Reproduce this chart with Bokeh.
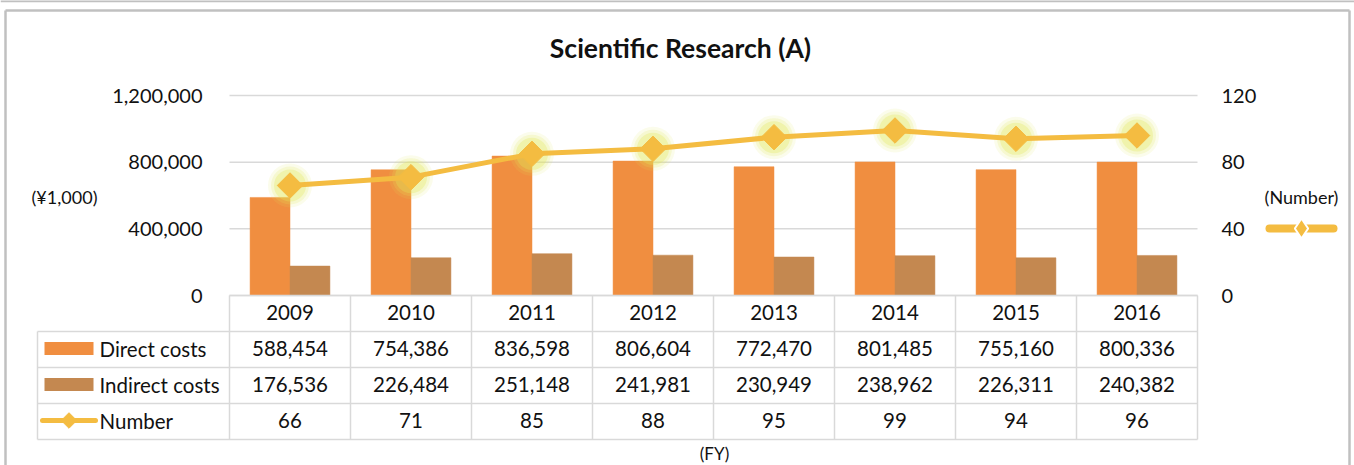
import numpy as np
from bokeh.plotting import figure
from bokeh.models import (ColumnDataSource, Range1d, LinearAxis, FixedTicker,
                          NumeralTickFormatter)
from bokeh.transform import dodge
from bokeh.embed import file_html
from bokeh.resources import INLINE
from bokeh.core.properties import value

# ---------------- data ----------------
years = ["2009", "2010", "2011", "2012", "2013", "2014", "2015", "2016"]
direct_costs = [588454, 754386, 836598, 806604, 772470, 801485, 755160, 800336]
indirect_costs = [176536, 226484, 251148, 241981, 230949, 238962, 226311, 240382]
numbers = [66, 71, 85, 88, 95, 99, 94, 96]
cost_ticks = [0, 400000, 800000, 1200000]
number_ticks = [0, 40, 80, 120]
series_names = ["Direct costs", "Indirect costs", "Number"]
title_text = "Scientific Research (A)"
cost_unit = "(¥1,000)"
number_unit = "(Number)"
fy_label = "(FY)"

# ---------------- style / layout ----------------
FONT = "Lato"
TXT = "#111111"
ORANGE = "#F08E40"
BROWN = "#C48850"
GOLD = "#F4BC41"
GLOW = "#E2E85A"
GRID = "#D9D9D9"
BORDER = "#C0C0C0"

W, H = 1354, 465
FRAME_L, FRAME_R, FRAME_T, FRAME_B = 229, 1197, 95, 295
n = len(years)
CAT_PX = (FRAME_R - FRAME_L) / n
COST_MAX = cost_ticks[-1]
NUM_MAX = number_ticks[-1]
PX_COST = COST_MAX / (FRAME_B - FRAME_T)
RATIO = NUM_MAX / COST_MAX


def xd(px):
    return (px - FRAME_L) / CAT_PX


def yd(py):
    return (FRAME_B - py) * PX_COST


xc = [i + 0.5 for i in range(n)]
src = ColumnDataSource(dict(x=xc, year=years, direct=direct_costs,
                            indirect=indirect_costs, number=numbers))

p = figure(x_range=Range1d(xd(0), xd(W)),
           y_range=Range1d(yd(H), yd(0)),
           width=W, height=H, output_backend="svg", toolbar_location=None,
           min_border=0, x_axis_location=None, y_axis_location=None)
p.outline_line_color = None
p.grid.visible = False
p.background_fill_color = "white"
p.border_fill_color = "white"

# axes
lax = LinearAxis(fixed_location=0, bounds=(0, COST_MAX),
                 ticker=FixedTicker(ticks=cost_ticks),
                 formatter=NumeralTickFormatter(format="0,0"),
                 axis_line_color=None, major_tick_line_color=None,
                 major_tick_out=0, major_tick_in=0,
                 minor_tick_line_color=None, major_label_standoff=27,
                 major_label_text_font=FONT, major_label_text_font_size="20px",
                 major_label_text_color=TXT)
p.add_layout(lax, "left")

p.extra_y_ranges = {"num": Range1d(p.y_range.start * RATIO, p.y_range.end * RATIO)}
rax = LinearAxis(y_range_name="num", fixed_location=n, bounds=(0, NUM_MAX),
                 ticker=FixedTicker(ticks=number_ticks),
                 axis_line_color=None, major_tick_line_color=None,
                 major_tick_out=0, major_tick_in=0,
                 minor_tick_line_color=None, major_label_standoff=24,
                 major_label_text_font=FONT, major_label_text_font_size="20px",
                 major_label_text_color=TXT)
p.add_layout(rax, "right")

# chart border
p.segment(x0=[xd(0), xd(5)], y0=[yd(0.5), yd(10)], x1=[xd(W), xd(1349)],
          y1=[yd(0.5), yd(10)], line_color=BORDER, line_width=2.5)
p.segment(x0=[xd(5), xd(1349)], y0=[yd(10), yd(10)], x1=[xd(5), xd(1349)],
          y1=[yd(H), yd(H)], line_color=BORDER, line_width=2.5)

# gridlines
p.segment(x0=[0] * len(cost_ticks), y0=cost_ticks, x1=[n] * len(cost_ticks),
          y1=cost_ticks, line_color=GRID, line_width=1.5)

# bars
p.vbar(x=dodge("x", -0.165), top="direct", width=0.33, source=src,
       fill_color=ORANGE, line_color=ORANGE, line_width=0.5)
p.vbar(x=dodge("x", 0.165), top="indirect", width=0.33, source=src,
       fill_color=BROWN, line_color=BROWN, line_width=0.5)

# line with glow
for sz, al in [(44, 0.12), (38, 0.18), (32, 0.3)]:
    p.scatter(x="x", y="number", y_range_name="num", source=src, marker="circle",
              size=sz, fill_color=GLOW, fill_alpha=al, line_color=None)
p.line(x="x", y="number", y_range_name="num", source=src,
       line_color=GOLD, line_width=5, line_join="round")
p.scatter(x="x", y="number", y_range_name="num", source=src, marker="square",
          angle=np.pi / 4, size=18, fill_color=GOLD, line_color=GOLD)

# title and unit labels
p.text(x=[xd(680)], y=[yd(47)], text=[title_text], text_align="center",
       text_baseline="middle", text_font=value(FONT), text_font_size="26.5px",
       text_font_style="bold", text_color=TXT)
p.text(x=[xd(64), xd(1301)], y=[yd(196), yd(196)], text=[cost_unit, number_unit],
       text_align="center", text_baseline="middle", text_font=value(FONT),
       text_font_size="18px", text_color=TXT)

# right-side legend marker for Number
p.segment(x0=[xd(1269)], y0=[yd(228)], x1=[xd(1333)], y1=[yd(228)],
          line_color=GOLD, line_width=8, line_cap="round")
p.scatter(x=[xd(1301)], y=[yd(228)], marker="diamond", size=20,
          fill_color=GOLD, line_color="white", line_width=2)

# ---------------- data table ----------------
ROW_TOP, ROW_PX = 295, 36
LBL_L = 37
x0 = xd(LBL_L)
ry = [yd(ROW_TOP + k * ROW_PX) for k in range(5)]   # row boundaries
rc = [yd(ROW_TOP - 1 + (k + 0.5) * ROW_PX) for k in range(4)]  # row centres

vx = list(range(n + 1))
p.segment(x0=vx, y0=[ry[0]] * (n + 1), x1=vx, y1=[ry[4]] * (n + 1),
          line_color=GRID, line_width=1.5)
p.segment(x0=[x0], y0=[ry[1]], x1=[x0], y1=[ry[4]], line_color=GRID, line_width=1.5)
p.segment(x0=[0, x0, x0, x0, x0], y0=ry, x1=[n] * 5, y1=ry,
          line_color=GRID, line_width=1.5)

rows = [years,
        [f"{v:,}" for v in direct_costs],
        [f"{v:,}" for v in indirect_costs],
        [str(v) for v in numbers]]
for r, vals in enumerate(rows):
    p.text(x=xc, y=[rc[r]] * n, text=vals, text_align="center",
           text_baseline="middle", text_font=value(FONT), text_font_size="20.5px",
           text_color=TXT)

p.text(x=[xd(99)] * 3, y=rc[1:], text=series_names, text_align="left",
       text_baseline="middle", text_font=value(FONT), text_font_size="20.5px",
       text_color=TXT)
p.rect(x=[xd(68.5)] * 2, y=rc[1:3], width=49, height=13,
       width_units="screen", height_units="screen",
       fill_color=[ORANGE, BROWN], line_color=None)
p.segment(x0=[xd(42)], y0=[rc[3]], x1=[xd(95)], y1=[rc[3]], line_color=GOLD,
          line_width=5, line_cap="round")
p.scatter(x=[xd(68.5)], y=[rc[3]], marker="square", angle=np.pi / 4, size=11,
          fill_color=GOLD, line_color=GOLD)
p.text(x=[xd(714)], y=[yd(453)], text=[fy_label], text_align="center",
       text_baseline="middle", text_font=value(FONT), text_font_size="17px",
       text_color=TXT)

open("out.html", "w").write(file_html(p, INLINE))
